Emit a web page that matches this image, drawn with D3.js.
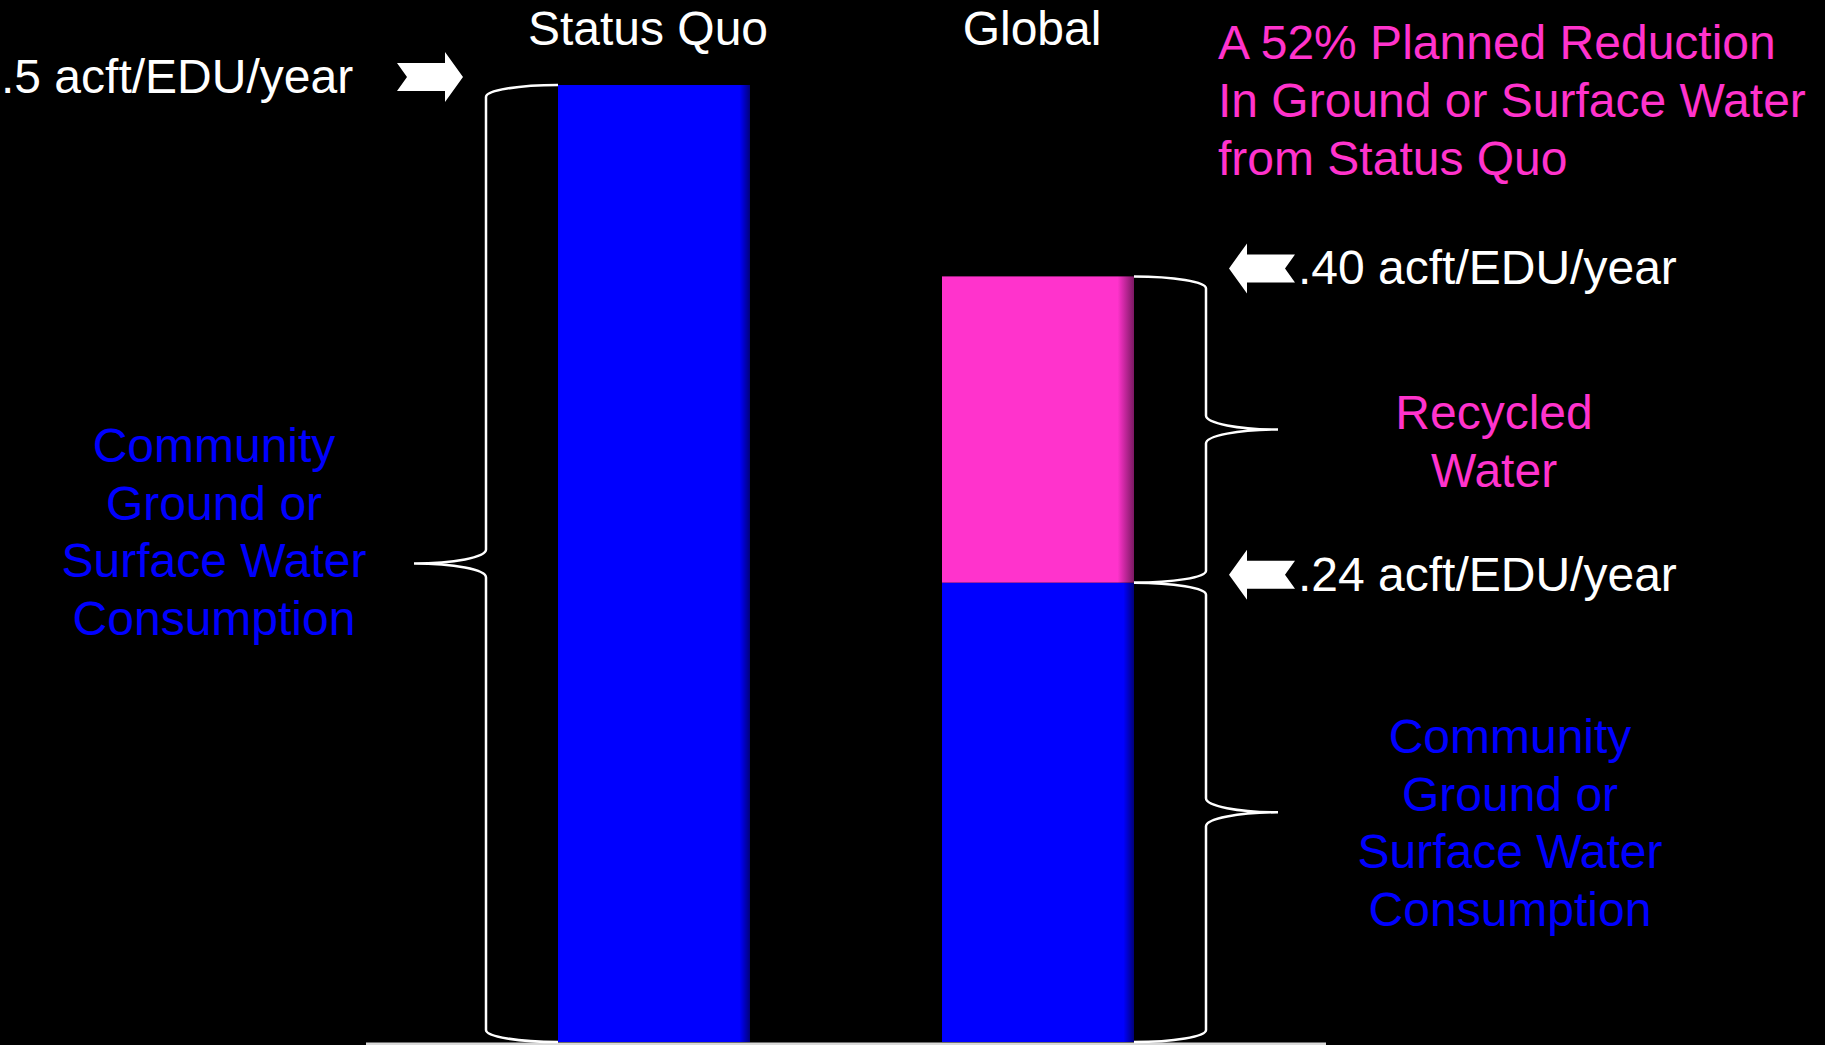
<!DOCTYPE html>
<html>
<head>
<meta charset="utf-8">
<script src="https://cdn.jsdelivr.net/npm/d3@7"></script>
<style>
  html, body { margin: 0; padding: 0; background: #000; overflow: hidden; }
  svg { display: block; }
  text { font-family: "Liberation Sans", Arial, sans-serif; }
</style>
</head>
<body>
<svg id="chart" width="1825" height="1045"></svg>
<script>
// Water use per EDU (acre-feet per year), by scenario
const categories = ["Status Quo", "Global"];
const communityWater = [0.5, 0.24];   // ground or surface water
const recycledWater = [0, 0.16];      // recycled water stacked on top

// Value call-outs with arrows
const markerValues = [0.5, 0.40, 0.24];
const markerLabels = [".5 acft/EDU/year", ".40 acft/EDU/year", ".24 acft/EDU/year"];
const markerSides = ["left", "right", "right"];

const headline = ["A 52% Planned Reduction", "In Ground or Surface Water", "from Status Quo"];
const recycledLabel = ["Recycled", "Water"];
const communityLabel = ["Community", "Ground or", "Surface Water", "Consumption"];

const BLUE = "#0000ff";
const PINK = "#ff33cc";
const WHITE = "#ffffff";
const FONT = 48;

const svg = d3.select("#chart");

const x = d3.scaleBand()
  .domain(categories)
  .range([366, 1326])
  .paddingInner(0.5)
  .paddingOuter(0.5);

const y = d3.scaleLinear()
  .domain([0, 0.5])
  .range([1042, 85]);

// Gradients give the bars a soft right edge
const defs = svg.append("defs");
function edgeGradient(id, color, dark, start) {
  const g = defs.append("linearGradient").attr("id", id)
    .attr("x1", "0").attr("x2", "1").attr("y1", "0").attr("y2", "0");
  g.append("stop").attr("offset", 0).attr("stop-color", color);
  g.append("stop").attr("offset", start).attr("stop-color", color);
  g.append("stop").attr("offset", 1).attr("stop-color", dark);
}
edgeGradient("blueFade", BLUE, "#00007a", 0.945);
edgeGradient("pinkFade", PINK, "#7a1862", 0.915);

const rows = categories.map((c, i) => ({
  cat: c,
  community: communityWater[i],
  recycled: recycledWater[i]
}));

const stack = d3.stack().keys(["community", "recycled"])(rows);
const fills = { community: "url(#blueFade)", recycled: "url(#pinkFade)" };

svg.append("g").selectAll("g")
  .data(stack)
  .join("g")
  .attr("fill", d => fills[d.key])
  .selectAll("rect")
  .data(d => d.filter(s => s[1] > s[0]))
  .join("rect")
  .attr("x", d => x(d.data.cat))
  .attr("width", x.bandwidth())
  .attr("y", d => y(d[1]))
  .attr("height", d => y(d[0]) - y(d[1]));

// Baseline
const [r0, r1] = x.range();
svg.append("line")
  .attr("x1", r0).attr("x2", r1)
  .attr("y1", y(0) + 2).attr("y2", y(0) + 2)
  .attr("stroke", "#d9d9d9").attr("stroke-width", 3);

// Category titles
svg.append("g").selectAll("text")
  .data(categories)
  .join("text")
  .attr("x", d => x(d) + x.bandwidth() / 2 - 6)
  .attr("y", 45)
  .attr("text-anchor", "middle")
  .attr("fill", WHITE)
  .attr("font-size", FONT)
  .text(d => d);

// Curly braces
const BRACE_W = 72, END_R = 12, CUSP_R = 14;
function bracePath(edgeX, dir, yTop, yBot) {
  const spine = edgeX + dir * BRACE_W;
  const tip = spine + dir * BRACE_W;
  const mid = (yTop + yBot) / 2;
  const sEnd = dir < 0 ? 0 : 1;
  const sCusp = dir < 0 ? 1 : 0;
  return [
    `M${edgeX},${yTop}`,
    `A${BRACE_W},${END_R} 0 0 ${sEnd} ${spine},${yTop + END_R}`,
    `L${spine},${mid - CUSP_R}`,
    `A${BRACE_W},${CUSP_R} 0 0 ${sCusp} ${tip},${mid}`,
    `A${BRACE_W},${CUSP_R} 0 0 ${sCusp} ${spine},${mid + CUSP_R}`,
    `L${spine},${yBot - END_R}`,
    `A${BRACE_W},${END_R} 0 0 ${sEnd} ${edgeX},${yBot}`
  ].join(" ");
}

const sqLeft = x(categories[0]);
const glRight = x(categories[1]) + x.bandwidth();
const glTotal = communityWater[1] + recycledWater[1];

const braces = [
  { edge: sqLeft, dir: -1, top: y(communityWater[0]), bot: y(0) },
  { edge: glRight, dir: 1, top: y(glTotal), bot: y(communityWater[1]) },
  { edge: glRight, dir: 1, top: y(communityWater[1]), bot: y(0) }
];

svg.append("g")
  .attr("fill", "none")
  .attr("stroke", WHITE)
  .attr("stroke-width", 2.5)
  .selectAll("path")
  .data(braces)
  .join("path")
  .attr("d", d => bracePath(d.edge, d.dir, d.top, d.bot));

// Notched block arrows pointing at the braces
const ARROW_GAP = 23;
function arrowPoints(tipX, cy, dir) {
  // dir = 1 points right, -1 points left
  const p = [
    [-66, -14], [-18, -14], [-18, -25], [0, 0],
    [-18, 25], [-18, 14], [-66, 14], [-56, 0]
  ];
  return p.map(([dx, dy]) => [tipX + dir * dx, cy + dy].join(",")).join(" ");
}

const markers = markerValues.map((v, i) => {
  const side = markerSides[i];
  const cy = y(v) - 8;
  const tipX = side === "left" ? sqLeft - BRACE_W - ARROW_GAP : glRight + BRACE_W + ARROW_GAP;
  return { v, label: markerLabels[i], side, cy, tipX };
});

const mg = svg.append("g");
mg.selectAll("polygon")
  .data(markers)
  .join("polygon")
  .attr("fill", WHITE)
  .attr("points", d => arrowPoints(d.tipX, d.cy, d.side === "left" ? 1 : -1));

mg.selectAll("text")
  .data(markers)
  .join("text")
  .attr("x", d => d.side === "left" ? 1 : d.tipX + 69)
  .attr("y", d => d.cy + 16)
  .attr("fill", WHITE)
  .attr("font-size", FONT)
  .text(d => d.label);

// Multi-line text blocks
function textBlock(lines, xPos, firstBaseline, lineGap, color, anchor, size) {
  const t = svg.append("text")
    .attr("fill", color)
    .attr("font-size", size)
    .attr("text-anchor", anchor);
  t.selectAll("tspan")
    .data(lines)
    .join("tspan")
    .attr("x", xPos)
    .attr("y", (d, i) => firstBaseline + i * lineGap)
    .text(d => d);
}

textBlock(headline, 1218, 59, 58, PINK, "start", 48);
textBlock(recycledLabel, 1494, (y(glTotal) + y(communityWater[1])) / 2 - 1, 58, PINK, "middle", FONT);
textBlock(communityLabel, 214, 462, 57.5, BLUE, "middle", FONT);
textBlock(communityLabel, 1510, 753, 57.5, BLUE, "middle", FONT);
</script>
</body>
</html>
